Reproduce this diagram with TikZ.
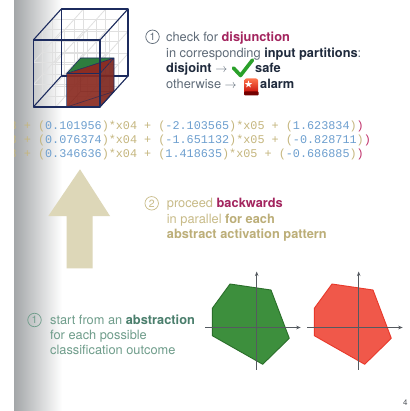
\documentclass[tikz,border=0pt]{standalone}
\usepackage{fontspec}
\setmainfont{TeX Gyre Heros}
\setmonofont{Liberation Mono}
\usetikzlibrary{arrows.meta}

\definecolor{navy}{HTML}{1C2B5E}
\definecolor{latticegray}{HTML}{E0E0E0}
\definecolor{boxred}{HTML}{8B2D23}
\definecolor{boxredside}{HTML}{7E2820}
\definecolor{boxgreen}{HTML}{2E7D3E}
\definecolor{slatetext}{HTML}{5F6B78}
\definecolor{darktext}{HTML}{1F2A3C}
\definecolor{accent}{HTML}{A3245E}
\definecolor{tantext}{HTML}{C8BB88}
\definecolor{tanbold}{HTML}{BCAE78}
\definecolor{sagetext}{HTML}{6F9D8B}
\definecolor{sagebold}{HTML}{4A7E6C}
\definecolor{codetan}{HTML}{C5B67E}
\definecolor{codeblue}{HTML}{6D9FCF}
\definecolor{codeend}{HTML}{C0306A}
\definecolor{arrowtan}{HTML}{DDD7B8}
\definecolor{stripgray}{HTML}{A3A6A8}
\definecolor{polygreen}{HTML}{3D8F3D}
\definecolor{polygreenline}{HTML}{2A6E2A}
\definecolor{polyred}{HTML}{F0584A}
\definecolor{polyredline}{HTML}{E8382A}
\definecolor{axisgray}{HTML}{555A60}
\definecolor{checkgreen}{HTML}{2AA02A}

% point of the unit cube (u right, v up, w depth) in the oblique view
\makeatletter
\def\cube@parse#1,#2,#3\relax{%
  \pgfmathsetmacro\cube@x{33.3+66.7*(#1)+28*(#3)}%
  \pgfmathsetmacro\cube@y{107-67*(#2)-31*(#3)}%
  \pgfpointxy{\cube@x}{\cube@y}}
\tikzdeclarecoordinatesystem{cube}{\cube@parse#1\relax}
\makeatother

\newcommand{\tn}[1]{\textcolor{codetan}{#1}}
\newcommand{\bn}[1]{\textcolor{codeblue}{#1}}
\newcommand{\mn}[1]{\textcolor{codeend}{#1}}

\begin{document}
\begin{tikzpicture}[x=1pt,y=-1pt,
  lattice/.style={draw=latticegray,line width=0.8pt},
  edge/.style={draw=navy,line width=1.1pt,line join=round},
  thinedge/.style={draw=navy,line width=0.6pt,line join=round},
  txt/.style={inner sep=0pt,anchor=base west,font=\fontsize{12.8}{15.5}\selectfont},
  code/.style={inner sep=0pt,anchor=base west,font=\ttfamily\fontsize{11.8}{13.5}\selectfont},
  numcirc/.style={circle,draw,line width=0.7pt,inner sep=0pt,minimum size=13.5pt,
    font=\fontsize{10.5}{10.5}\selectfont},
  axis/.style={draw=axisgray,line width=0.8pt,-{Stealth[length=4.5pt,width=3.5pt]}}]
\useasboundingbox (0,0) rectangle (409,411);
\fill[white] (0,0) rectangle (409,411);
\shade[left color=stripgray,right color=white] (14,0) rectangle (62,411);

% ---- lattice cube with the inner box ----
\foreach \a in {0,1/3,2/3,1}{
  \foreach \b in {0,1/3,2/3,1}{
    \draw[lattice] (cube cs:0,\a,\b) -- (cube cs:1,\a,\b);
    \draw[lattice] (cube cs:\a,0,\b) -- (cube cs:\a,1,\b);
    \draw[lattice] (cube cs:\a,\b,0) -- (cube cs:\a,\b,1);
  }
}
% back edges of the outer cube
\draw[edge] (cube cs:0,0,1) -- (cube cs:1,0,1) -- (cube cs:1,1,1) -- (cube cs:0,1,1) -- cycle;
\draw[edge] (cube cs:0,0,0) -- (cube cs:0,0,1);
% inner box: hidden edges
\draw[thinedge,opacity=0.5] (cube cs:.5,0,.5) -- (cube cs:.5,.5,.5)
  (cube cs:.5,0,.5) -- (cube cs:1,0,.5)
  (cube cs:.5,0,.5) -- (cube cs:.5,0,0)
  (cube cs:.5,0,0) -- (cube cs:1,0,.5);
% inner box: faces
\fill[boxredside,opacity=0.93] (cube cs:1,0,0) -- (cube cs:1,0,.5) -- (cube cs:1,.5,.5) -- (cube cs:1,.5,0) -- cycle;
\fill[boxred,opacity=0.93] (cube cs:.5,0,0) -- (cube cs:1,0,0) -- (cube cs:1,.5,0) -- (cube cs:.5,.5,0) -- cycle;
\fill[boxgreen] (cube cs:.5,.5,0) -- (cube cs:.5,.5,.5) -- (cube cs:1,.5,.5) -- cycle;
\fill[boxred] (cube cs:.5,.5,0) -- (cube cs:1,.5,.5) -- (cube cs:1,.5,0) -- cycle;
\draw[thinedge,opacity=0.6] (cube cs:.5,0,0) -- (cube cs:1,0,.5);
\draw[thinedge] (cube cs:.5,0,0) -- (cube cs:.5,.5,0) -- (cube cs:1,.5,0) -- (cube cs:1,0,0)
  (cube cs:.5,.5,0) -- (cube cs:.5,.5,.5) -- (cube cs:1,.5,.5) -- (cube cs:1,.5,0)
  (cube cs:1,.5,.5) -- (cube cs:1,0,.5) -- (cube cs:1,0,0)
  (cube cs:.5,.5,0) -- (cube cs:1,.5,.5);
% front edges of the outer cube
\draw[edge] (cube cs:1,0,0) -- (cube cs:1,0,1);
\draw[edge] (cube cs:1,1,0) -- (cube cs:1,1,1);
\draw[edge] (cube cs:0,1,0) -- (cube cs:0,1,1);
\draw[edge] (cube cs:0,0,0) -- (cube cs:1,0,0) -- (cube cs:1,1,0) -- (cube cs:0,1,0) -- cycle;

% ---- step 1 (top): disjunction check ----
\node[numcirc,draw=slatetext,text=slatetext] (n1top) at (152.5,36.8) {1};
\node[txt,text=slatetext] (t1a) at (166,41.7) {check for \textcolor{accent}{\textbf{disjunction}}};
\node[txt,text=slatetext] (t1b) at (166,57.2) {in corresponding \textcolor{darktext}{\textbf{input partitions}}:};
\node[txt,text=slatetext] (t1c) at (166,72.7) {\textcolor{darktext}{\textbf{disjoint}} $\rightarrow$};
\node[txt,text=darktext] (t1safe) at (255,72.7) {\textbf{safe}};
\node[txt,text=slatetext] (t1d) at (166,88.2) {otherwise $\rightarrow$};
\node[txt,text=darktext] (t1alarm) at (260,88.2) {\textbf{alarm}};
% check mark
\draw[checkgreen,line width=3.6pt,line cap=round,line join=round]
  (233.5,68) -- (240.5,75.5) -- (252.5,60);
% alarm beacon
\shade[top color=red!55!orange!70,bottom color=red!75!black,rounded corners=2pt]
  (244.5,78.5) rectangle (258,95);
\fill[red!45!black,rounded corners=1pt] (244,91.5) rectangle (258.5,95.5);
\fill[white] (248.5,80.5) -- (249.4,83) -- (252,83.2) -- (250,84.8) -- (250.8,87.3)
  -- (248.5,85.8) -- (246.2,87.3) -- (247,84.8) -- (245,83.2) -- (247.6,83) -- cycle;

% ---- code lines ----
\node[code] (code1) at (9.5,130) {\tn{3 + (}\bn{0.101956}\tn{)*x04 + (}\bn{-2.103565}\tn{)*x05 + (}\bn{1.623834}\tn{)}\mn{)}};
\node[code] (code2) at (9.5,143.6) {\tn{3 + (}\bn{0.076374}\tn{)*x04 + (}\bn{-1.651132}\tn{)*x05 + (}\bn{-0.828711}\tn{)}\mn{)}};
\node[code] (code3) at (9.5,157.4) {\tn{3 + (}\bn{0.346636}\tn{)*x04 + (}\bn{1.418635}\tn{)*x05 + (}\bn{-0.686885}\tn{)}\mn{)}};

% ---- step 2: backwards arrow ----
\fill[arrowtan] (80,169.3) -- (110,216) -- (92.7,216) -- (92.7,268.3)
  -- (66.7,268.3) -- (66.7,216) -- (48.3,216) -- cycle;
\node[numcirc,draw=tantext,text=tantext] (n2) at (151.7,203.3) {2};
\node[txt,text=tantext] (t2a) at (166.7,207.5) {proceed \textcolor{accent}{\textbf{backwards}}};
\node[txt,text=tantext] (t2b) at (166.7,223) {in parallel \textcolor{tanbold}{\textbf{for each}}};
\node[txt,text=tanbold] (t2c) at (166.7,238.5) {\textbf{abstract activation pattern}};

% ---- step 1 (bottom): abstractions ----
\node[numcirc,draw=sagetext,text=sagetext] (n1bot) at (34.5,320) {1};
\node[txt,text=sagetext] (t3a) at (50,324.5) {start from an \textcolor{sagebold}{\textbf{abstraction}}};
\node[txt,text=sagetext] (t3b) at (50,339.5) {for each possible};
\node[txt,text=sagetext] (t3c) at (50,354.5) {classification outcome};

% green polytope and axes
\filldraw[fill=polygreen,draw=polygreenline,line width=0.9pt,line join=round]
  (230,284) -- (271,290) -- (289.3,338.3) -- (262.7,364.3) -- (212.3,335.7) -- (212.3,308.3) -- cycle;
\draw[axis] (205,327.5) -- (300.7,327.5);
\draw[axis] (256.7,369.5) -- (256.7,271.5);
% red polytope and axes
\begin{scope}[xshift=102pt]
\filldraw[fill=polyred,draw=polyredline,line width=0.9pt,line join=round]
  (230,284) -- (271,290) -- (289.3,338.3) -- (262.7,364.3) -- (212.3,335.7) -- (212.3,308.3) -- cycle;
\draw[axis] (205,327.5) -- (300.7,327.5);
\draw[axis] (256.7,369.5) -- (256.7,271.5);
\end{scope}

% page number
\node[inner sep=0pt,anchor=base west,text=axisgray,font=\fontsize{8}{8}\selectfont] (pageno) at (403,405) {4};

% plain left margin
\fill[white] (0,0) rectangle (14,411);
\end{tikzpicture}
\end{document}
